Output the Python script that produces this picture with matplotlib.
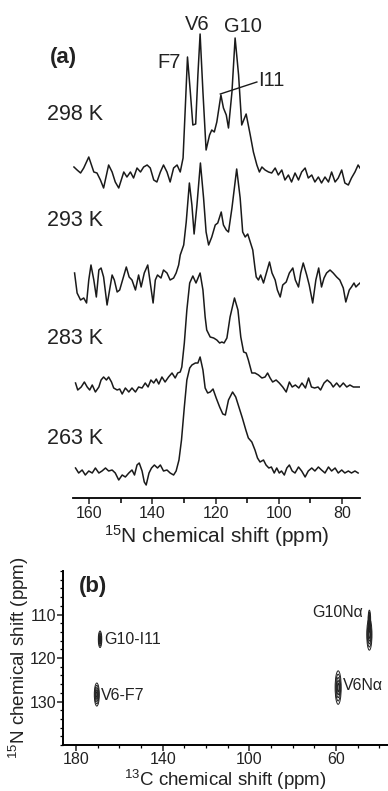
import numpy as np
import matplotlib.pyplot as plt
from matplotlib.patches import Ellipse
from matplotlib.ticker import MultipleLocator

plt.rcParams['font.family'] = ['Liberation Sans', 'DejaVu Sans']
plt.rcParams['mathtext.fontset'] = 'custom'
plt.rcParams['mathtext.rm'] = 'Liberation Sans'

# ---- 1D 15N spectra (ppm, intensity a.u.) ----
ppm_298 = [164.9, 163.9, 162.8, 161.8, 160.2, 158.6, 157.6, 156.5, 155.5, 153.9, 152.8, 151.8,
           150.7, 149.1, 148.1, 147.0, 146.0, 144.9, 143.8, 142.8, 141.7, 140.7, 139.6, 138.6,
           137.5, 136.5, 135.4, 134.4, 133.3, 132.2, 131.2, 130.3, 129.6, 128.9, 128.0, 127.2,
           126.3, 125.6, 124.9, 124.0, 123.0, 121.9, 121.2, 120.4, 119.6, 118.3, 117.5, 116.6,
           115.9, 114.8, 113.8, 112.7, 111.7, 110.3, 109.0, 108.0, 106.9, 106.1, 105.3, 104.3,
           103.2, 102.2, 101.1, 100.1, 99.0, 98.0, 96.9, 95.9, 94.8, 93.7, 92.7, 91.6, 90.6,
           89.5, 88.5, 87.4, 86.4, 85.3, 84.2, 83.2, 82.1, 81.1, 80.0, 79.0, 77.9, 76.9, 75.8,
           74.8, 74.2]
int_298 = [8, 5, 2, 7, 18, 3, 2, -5, -13, 10, 3, -7,
           -13, 3, -2, 3, -3, 7, 3, 8, 10, 7, -5, -7,
           3, 10, 3, -7, 7, 10, 3, 17, 67, 118, 83, 50,
           51, 100, 141, 83, 25, 40, 45, 43, 53, 80, 67, 60,
           47, 83, 137, 100, 50, 61, 40, 23, 10, 3, 8, 5,
           3, 2, 7, 0, 5, -5, 0, -7, 2, -5, 3, 7, -3,
           0, -7, -2, -8, -2, -7, 3, -7, -3, 5, -8, -10, -3, 3,
           10, 7]

ppm_293 = [164.7, 163.9, 162.8, 161.8, 160.9, 160.2, 159.5, 158.6, 157.8, 157.0, 156.3, 155.5,
           154.4, 153.6, 152.8, 152.1, 151.2, 150.4, 149.3, 148.3, 147.4, 146.5, 145.4, 144.4,
           143.6, 142.6, 141.5, 140.7, 139.8, 139.1, 138.4, 137.3, 136.5, 135.4, 134.4, 133.3,
           132.5, 131.7, 131.2, 130.1, 129.3, 128.3, 127.5, 126.8, 125.9, 124.8, 123.8, 123.0,
           122.2, 121.2, 120.1, 119.3, 118.2, 117.5, 116.6, 115.9, 114.8, 113.3, 112.2, 111.4,
           110.6, 109.8, 109.0, 108.2, 107.5, 107.1, 106.4, 105.7, 104.8, 103.8, 102.9, 102.1,
           101.1, 100.4, 99.5, 98.7, 97.6, 96.6, 95.5, 94.7, 93.7, 93.0, 92.2, 91.1, 90.3,
           89.2, 88.2, 87.3, 86.4, 85.6, 84.8, 83.7, 82.7, 81.6, 80.6, 79.5, 78.7, 77.6, 76.9,
           76.1, 75.5, 74.9, 74.2]
int_293 = [10, -10, -17, -15, -20, 3, 18, 3, -14, 13, 15, 6,
           -22, -7, 8, 3, -9, -7, 5, 16, 6, 3, -7, 8,
           -4, 10, 18, 0, -20, 3, 8, 5, 13, 10, 3, 5,
           10, 18, 28, 38, 61, 100, 78, 49, 78, 120, 85, 51,
           38, 46, 58, 60, 71, 58, 53, 51, 75, 114, 85, 51,
           46, 49, 41, 33, 15, 6, 3, 8, 0, 11, 21, 10,
           3, -7, -14, -2, 1, 10, 15, 3, -4, 10, 20, 8, -2,
           -20, 3, 15, -4, 5, 10, 13, 10, 6, 3, -5, -19, -7, -4,
           0, -4, -2, 0]

ppm_283 = [164.4, 163.7, 162.6, 161.6, 160.7, 159.9, 159.1, 158.1, 157.0, 156.3, 155.5, 154.6,
           153.9, 153.0, 152.3, 151.2, 150.4, 149.6, 148.6, 147.5, 146.5, 145.4, 144.4, 143.3,
           142.3, 141.4, 140.5, 139.6, 138.8, 138.0, 137.0, 136.0, 134.9, 133.8, 132.8, 132.0,
           131.2, 130.7, 129.9, 129.1, 128.2, 127.2, 126.2, 124.9, 124.0, 123.3, 122.8, 121.7,
           120.6, 119.6, 118.7, 118.0, 117.3, 116.4, 115.4, 114.0, 112.9, 112.0, 111.1, 110.3,
           109.6, 108.5, 107.5, 106.4, 105.3, 104.3, 103.5, 102.7, 101.9, 100.8, 99.8, 98.7,
           97.6, 96.6, 95.7, 94.7, 93.6, 92.6, 91.5, 90.5, 89.6, 88.6, 87.5, 86.7, 85.6, 84.6,
           83.5, 82.7, 81.6, 80.6, 79.5, 78.4, 77.4, 76.3, 75.3, 74.2]
int_283 = [4, -3, 0, 5, 0, -3, 2, -5, 0, 7, 10, 7,
           10, 5, -1, -3, -2, -7, -1, -5, -1, -5, 0, -1,
           4, 0, 7, 4, 8, 3, 10, 5, 10, 14, 9, 14,
           15, 20, 44, 77, 104, 111, 104, 114, 97, 70, 57, 50,
           49, 47, 44, 45, 44, 49, 70, 89, 77, 50, 35, 34,
           27, 14, 14, 12, 9, 10, 14, 9, 5, 7, 4, 0,
           -5, 5, 0, 2, -1, 4, -1, 9, 0, -1, 0, -3, 4, 7,
           4, 0, 4, 0, 4, 0, 2, 0, 0, 0]

ppm_263 = [164.4, 163.4, 162.3, 161.3, 160.2, 159.1, 158.1, 157.0, 156.0, 154.9, 153.9, 152.8,
           151.8, 150.7, 149.6, 148.6, 147.5, 146.5, 145.7, 144.9, 144.2, 143.3, 142.6, 142.0,
           141.1, 140.3, 139.4, 138.4, 137.5, 136.5, 135.4, 134.4, 133.3, 132.5, 131.6, 130.8,
           129.9, 129.1, 128.2, 127.5, 126.4, 125.6, 124.9, 124.0, 123.3, 122.5, 121.7, 120.8,
           119.8, 118.7, 117.7, 116.9, 115.9, 114.6, 113.6, 112.5, 111.5, 110.4, 109.6, 108.5,
           107.5, 106.7, 105.9, 104.8, 104.0, 103.1, 102.3, 101.4, 100.6, 99.8, 99.1, 98.2,
           97.4, 96.6, 95.7, 94.8, 93.7, 92.7, 91.6, 90.6, 89.5, 88.5, 87.4, 86.4, 85.3, 84.2,
           83.2, 82.1, 81.1, 80.0, 79.0, 77.9, 76.9, 75.8, 74.8]
int_263 = [5, 0, 3, -2, 2, 0, 5, 0, 2, 5, 2, 3,
           0, -7, -2, -4, 0, 3, -2, 8, 10, 2, -9, -12,
           0, 5, 8, 5, 8, 2, 3, 0, -2, 2, 13, 33,
           66, 93, 105, 108, 110, 110, 116, 103, 85, 80, 81, 84,
           75, 66, 59, 58, 73, 81, 76, 65, 55, 43, 35, 31,
           23, 15, 11, 13, 8, 5, 6, 0, 5, 0, 2, -2,
           5, 8, 2, 0, 6, 2, -4, 2, 5, 2, 6, 3, 0, 6,
           2, 5, 0, 3, 0, 2, 0, 2, 0]

traces = [(ppm_298, int_298), (ppm_293, int_293), (ppm_283, int_283), (ppm_263, int_263)]
temps = ['298 K', '293 K', '283 K', '263 K']

# ---- 2D 15N-13C cross peaks: (13C ppm, 15N ppm, width, height) ----
peak_names = ['V6-F7', 'G10-I11', 'V6N\u03b1', 'G10N\u03b1', 'G10N\u03b1']
peak_c = [170.4, 168.9, 59.0, 44.6, 44.6]
peak_n = [128.4, 115.7, 126.8, 114.6, 111.5]
peak_wc = [2.3, 1.6, 2.8, 2.4, 1.2]
peak_wn = [5.3, 3.8, 7.7, 7.2, 5.0]

W, H = 388, 791
fig = plt.figure(figsize=(W / 100, H / 100), dpi=100)


def fx(x):
    return x / W


def fy(y):
    return 1 - y / H


# ---------------- (a) stacked 1D spectra ----------------
ax = fig.add_axes([fx(73), fy(498), fx(287), 498 / H])
offsets = [323, 215, 111, 25]
for (p, v), off in zip(traces, offsets):
    ax.plot(p, np.array(v) + off, color='#1a1a1a', lw=1.1)

ax.set_xlim(165.2, 74.2)
ax.set_ylim(0, 498)
for s in ['top', 'right', 'left']:
    ax.spines[s].set_visible(False)
ax.spines['bottom'].set_linewidth(1.3)
ax.set_yticks([])
ax.set_xticks([160, 140, 120, 100, 80])
ax.set_xticks([150, 130, 110, 90], minor=True)
ax.tick_params(axis='x', which='major', direction='out', length=4, width=1.1,
               labelsize=11.5, pad=2, colors='#222222')
ax.tick_params(axis='x', which='minor', direction='out', length=3.5, width=1.1)
ax.set_xlabel(r'$\mathregular{^{15}}$N chemical shift (ppm)', fontsize=15, labelpad=1,
              color='#222222')
ax.patch.set_alpha(0)

# peak assignments on the top trace
ax.text(131.0, 435, 'F7', fontsize=14.5, ha='right', va='center', color='#222222')
ax.text(125.9, 474, 'V6', fontsize=14.5, ha='center', va='center', color='#222222')
ax.text(111.2, 471, 'G10', fontsize=14.5, ha='center', va='center', color='#222222')
ax.plot([118.5, 106.9], [404, 416], color='#1a1a1a', lw=1.0)
ax.text(106.6, 418, 'I11', fontsize=14.5, ha='left', va='center', color='#222222')

fig.text(fx(50), fy(58), '(a)', fontsize=16, fontweight='bold', ha='left', va='center',
         color='#222222')
for t, yc in zip(temps, [115, 221, 339, 439]):
    fig.text(fx(47), fy(yc), t, fontsize=15.5, ha='left', va='center', color='#222222')

# ---------------- (b) 2D correlation ----------------
bx = fig.add_axes([fx(63), fy(745), fx(325), 174 / H])
for c, n, wc, wn in zip(peak_c, peak_n, peak_wc, peak_wn):
    for k in [1.0, 0.8, 0.6, 0.42, 0.25]:
        bx.add_patch(Ellipse((c, n), wc * k, wn * k, fill=False,
                             edgecolor='#222222', lw=0.7))

bx.set_xlim(186, 36)
bx.set_ylim(140, 100)
bx.spines['top'].set_visible(False)
bx.spines['right'].set_visible(False)
for s in ['left', 'bottom']:
    bx.spines[s].set_linewidth(1.4)
bx.set_xticks([180, 140, 100, 60])
bx.xaxis.set_minor_locator(MultipleLocator(10))
bx.set_yticks([110, 120, 130])
bx.yaxis.set_minor_locator(MultipleLocator(2))
bx.tick_params(which='major', direction='out', length=4, width=1.1, labelsize=11.5,
               pad=1, colors='#222222')
bx.tick_params(which='minor', direction='out', length=2.5, width=0.9)
bx.set_xlabel(r'$\mathregular{^{13}}$C chemical shift (ppm)', fontsize=13.5, labelpad=0.5,
              color='#222222')
bx.set_ylabel(r'$\mathregular{^{15}}$N chemical shift (ppm)', fontsize=13.5, labelpad=-1,
              color='#222222')

bx.text(172, 103.5, '(b)', fontsize=16, fontweight='bold', ha='center', va='center',
        color='#222222')
bx.text(166.8, 115.7, peak_names[1], fontsize=11.5, ha='left', va='center', color='#222222')
bx.text(168.5, 128.7, peak_names[0], fontsize=11.5, ha='left', va='center', color='#222222')
bx.text(57.0, 126.3, peak_names[2], fontsize=11.5, ha='left', va='center', color='#222222')
bx.text(47.5, 109.5, peak_names[3], fontsize=11.5, ha='right', va='center', color='#222222')

fig.savefig('out.png', dpi=100)
